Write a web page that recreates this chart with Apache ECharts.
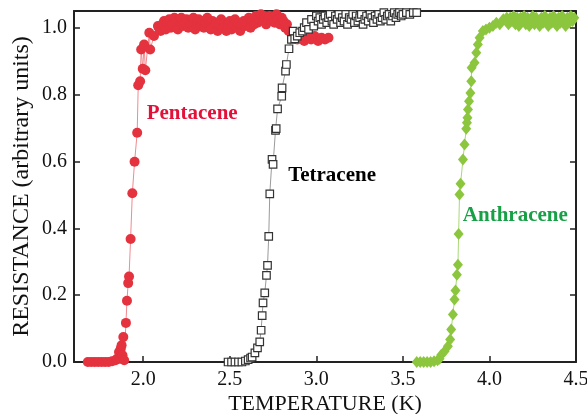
<!DOCTYPE html>
<html>
<head>
<meta charset="utf-8">
<script src="https://cdn.jsdelivr.net/npm/echarts@6/dist/echarts.min.js"></script>
<style>
html,body{margin:0;padding:0;background:#fff;}
#chart{width:587px;height:414px;}
</style>
</head>
<body>
<div id="chart"></div>
<script>
// Temperature (K) and normalized resistance
var pentaceneT = [1.68,1.70,1.72,1.74,1.76,1.78,1.80,1.82,1.84,1.85,1.86,1.865,1.87,1.875,1.88,1.885,1.89,
  1.900,1.906,1.913,1.918,1.927,1.937,1.950,1.965,1.971,1.982,1.988,1.997,2.005,2.012,2.035,2.040,2.062,2.085,
  2.09,2.10,2.11,2.12,2.13,2.14,2.15,2.16,2.17,2.18,2.19,2.20,2.21,2.22,2.23,2.24,2.25,2.26,2.27,2.28,2.29,2.30,
  2.31,2.32,2.33,2.34,2.35,2.36,2.37,2.38,2.39,2.40,2.41,2.42,2.43,2.44,2.45,2.46,2.47,2.48,2.49,2.50,2.51,2.52,
  2.53,2.54,2.55,2.56,2.57,2.58,2.59,2.60,2.61,2.62,2.63,2.64,2.65,2.66,2.67,2.68,2.69,2.70,2.71,2.72,2.73,2.74,
  2.75,2.76,2.77,2.78,2.79,2.80,2.81,2.82,2.83,2.84,
  2.87,2.89,2.91,2.93,2.95,2.97,2.99,3.01,3.03,3.05,3.07];
var pentaceneR = [0.0,0.0,0.0,0.0,0.0,0.0,0.0,0.002,0.005,0.01,0.03,0.01,0.04,0.05,0.02,0.075,0.005,
  0.117,0.183,0.236,0.256,0.368,0.505,0.599,0.686,0.828,0.840,0.935,0.877,0.950,0.873,0.985,0.935,0.975,1.005,
  1.00,0.99,1.01,1.02,0.995,1.015,1.025,1.00,1.01,1.03,1.015,0.995,1.02,1.03,1.005,1.015,1.025,1.00,1.02,1.01,1.03,0.995,
  1.015,1.025,1.005,1.02,1.00,1.015,1.03,1.01,0.995,1.02,1.005,1.015,0.99,1.01,1.025,1.00,1.015,0.99,1.005,1.02,0.995,1.01,
  1.025,1.00,1.015,0.99,1.01,1.02,1.005,1.015,1.03,1.00,1.02,1.01,1.035,1.015,1.025,1.04,1.02,1.035,1.01,1.025,1.035,1.02,
  1.03,1.015,1.04,1.025,1.01,1.03,1.02,1.00,1.01,0.99,
  0.97,0.965,0.975,0.96,0.97,0.965,0.975,0.96,0.97,0.965,0.97];

var tetraceneT = [2.49,2.51,2.53,2.55,2.57,2.59,2.606,2.62,2.629,2.645,2.66,2.673,2.681,2.687,2.692,2.702,2.712,2.718,
  2.725,2.731,2.744,2.750,2.764,2.768,2.776,2.80,2.802,2.822,2.827,2.842,2.856,2.866,2.875,2.89,2.904,2.92,2.93,2.943,
  2.955,2.972,2.985,3.00,3.01,3.02,3.03,3.04,3.05,3.06,3.07,3.08,3.09,3.10,3.11,3.12,3.13,3.14,3.15,3.16,3.17,3.18,
  3.19,3.20,3.21,3.22,3.23,3.24,3.25,3.26,3.27,3.28,3.29,3.30,3.31,3.32,3.33,3.34,3.35,3.36,3.37,3.38,3.39,3.40,
  3.41,3.42,3.43,3.44,3.45,3.46,3.47,3.48,3.49,3.50,3.52,3.54,3.56,3.58];
var tetraceneR = [0.0,0.0,0.0,0.0,0.0,0.003,0.007,0.012,0.015,0.027,0.042,0.060,0.095,0.139,0.177,0.207,0.259,0.289,
  0.376,0.503,0.606,0.591,0.693,0.698,0.757,0.795,0.820,0.870,0.890,0.937,0.965,0.990,0.967,0.975,0.985,0.990,1.000,1.015,
  0.995,1.025,1.005,1.035,1.02,1.03,1.01,1.025,1.035,1.015,1.03,1.04,1.02,1.01,1.035,1.025,1.04,1.015,1.03,1.02,1.04,1.01,
  1.03,1.025,1.04,1.015,1.035,1.02,1.03,1.04,1.01,1.025,1.035,1.02,1.04,1.03,1.015,1.035,1.025,1.04,1.02,1.03,1.045,1.025,
  1.035,1.04,1.02,1.035,1.045,1.03,1.04,1.045,1.035,1.04,1.045,1.04,1.045,1.045];

var anthraceneT = [3.58,3.60,3.62,3.64,3.66,3.68,3.70,3.712,3.722,3.741,3.760,3.773,3.779,3.789,3.798,3.804,3.812,3.818,
  3.822,3.827,3.833,3.847,3.856,3.866,3.870,3.873,3.876,3.882,3.890,3.895,3.897,3.914,3.924,3.933,3.943,3.962,3.98,4.00,
  4.02,4.04,4.06,4.08,4.10,4.11,4.12,4.13,4.14,4.15,4.16,4.17,4.18,4.19,4.20,4.21,4.22,4.23,4.24,4.25,4.26,4.27,4.28,
  4.29,4.30,4.31,4.32,4.33,4.34,4.35,4.36,4.37,4.38,4.39,4.40,4.41,4.42,4.43,4.44,4.45,4.46,4.47,4.48,4.49];
var anthraceneR = [0.0,0.0,0.0,0.0,0.0,0.002,0.005,0.01,0.022,0.032,0.047,0.067,0.097,0.142,0.187,0.214,0.261,0.291,
  0.383,0.501,0.533,0.606,0.651,0.698,0.716,0.731,0.755,0.780,0.805,0.840,0.880,0.895,0.925,0.950,0.970,0.990,0.995,1.000,
  1.005,1.015,1.01,1.025,1.03,1.01,1.03,1.02,1.035,1.01,1.03,1.005,1.03,1.02,1.035,1.01,1.03,1.005,1.025,1.035,1.01,1.03,1.02,
  1.005,1.03,1.015,1.035,1.02,1.005,1.03,1.015,1.035,1.02,1.005,1.03,1.015,1.035,1.02,1.005,1.03,1.015,1.035,1.02,1.03];

var xTicks = [2.0,2.5,3.0,3.5,4.0,4.5];
var yTicks = [0.0,0.2,0.4,0.6,0.8,1.0];
var seriesNames = ['Pentacene','Tetracene','Anthracene'];
var labelColors = ['#e3103a','#000000','#17a046'];
// label anchor points in data coordinates [T, R]
var labelAnchors = [[2.02,0.743],[2.837,0.558],[3.846,0.438]];

function zip(a,b){ var o=[]; for(var i=0;i<a.length;i++){o.push([a[i],b[i]]);} return o; }

var FONT = '"Liberation Serif","DejaVu Serif",serif';
var chart = echarts.init(document.getElementById('chart'), null, {renderer:'canvas'});
var axisLineStyle = {color:'#222', width:2};

var option = {
  animation:false,
  backgroundColor:'#fff',
  grid:{left:74, right:11, top:11, bottom:52, containLabel:false, outerBoundsMode:'none'},
  xAxis:[{
    type:'value', min:1.6, max:4.5, position:'bottom',
    name:'TEMPERATURE (K)', nameLocation:'middle', nameGap:31, nameMoveOverlap:false,
    nameTextStyle:{fontFamily:FONT, fontSize:22, color:'#111'},
    axisLine:{show:true, onZero:false, lineStyle:axisLineStyle},
    axisTick:{show:true, inside:true, length:6, customValues:xTicks, lineStyle:{color:'#222', width:1.5}},
    axisLabel:{customValues:xTicks, margin:8, fontFamily:FONT, fontSize:20, color:'#111',
      formatter:function(v){return v.toFixed(1);}},
    splitLine:{show:false}
  },{
    type:'value', min:1.6, max:4.5, position:'top',
    axisLine:{show:true, onZero:false, lineStyle:axisLineStyle},
    axisTick:{show:false}, axisLabel:{show:false}, splitLine:{show:false}
  }],
  yAxis:[{
    type:'value', min:0, max:1.05, position:'left',
    name:'RESISTANCE (arbitrary units)', nameLocation:'middle', nameGap:40, nameRotate:90, nameMoveOverlap:false,
    nameTextStyle:{fontFamily:FONT, fontSize:24, color:'#111'},
    axisLine:{show:true, onZero:false, lineStyle:axisLineStyle},
    axisTick:{show:true, inside:true, length:6, customValues:yTicks, lineStyle:{color:'#222', width:1.5}},
    axisLabel:{customValues:yTicks, margin:7, fontFamily:FONT, fontSize:20, color:'#111',
      formatter:function(v){return v.toFixed(1);}},
    splitLine:{show:false}
  },{
    type:'value', min:0, max:1.05, position:'right',
    axisLine:{show:true, onZero:false, lineStyle:axisLineStyle},
    axisTick:{show:true, inside:true, length:6, customValues:yTicks, lineStyle:{color:'#222', width:1.5}},
    axisLabel:{show:false}, splitLine:{show:false}
  }],
  series:[
    {
      name:seriesNames[0], type:'line', data:zip(pentaceneT,pentaceneR),
      symbol:'circle', symbolSize:10, showAllSymbol:true, clip:true,
      itemStyle:{color:'#e5323f', borderWidth:0},
      lineStyle:{color:'#f08a90', width:1}
    },
    {
      name:seriesNames[1], type:'line', data:zip(tetraceneT,tetraceneR),
      symbol:'rect', symbolSize:7.5, showAllSymbol:true, clip:true,
      itemStyle:{color:'#ffffff', borderColor:'#333', borderWidth:1.2},
      lineStyle:{color:'#9a9a9a', width:1}
    },
    {
      name:seriesNames[2], type:'line', data:zip(anthraceneT,anthraceneR),
      symbol:'diamond', symbolSize:[10,12], showAllSymbol:true, clip:true,
      itemStyle:{color:'#8cc63e', borderWidth:0},
      lineStyle:{color:'#a9d878', width:1}
    }
  ]
};
chart.setOption(option);

// Series name labels, placed at data coordinates through the chart's own scales
var g = [];
for (var i = 0; i < seriesNames.length; i++) {
  var p = chart.convertToPixel({xAxisIndex:0, yAxisIndex:0}, labelAnchors[i]);
  g.push({
    type:'text', x:p[0], y:p[1], z:100,
    style:{text:seriesNames[i], fill:labelColors[i], font:'bold 21px ' + FONT,
      textAlign:'left', textVerticalAlign:'middle', verticalAlign:'middle', opacity:1}
  });
}
chart.setOption({graphic:g});
</script>
</body>
</html>
